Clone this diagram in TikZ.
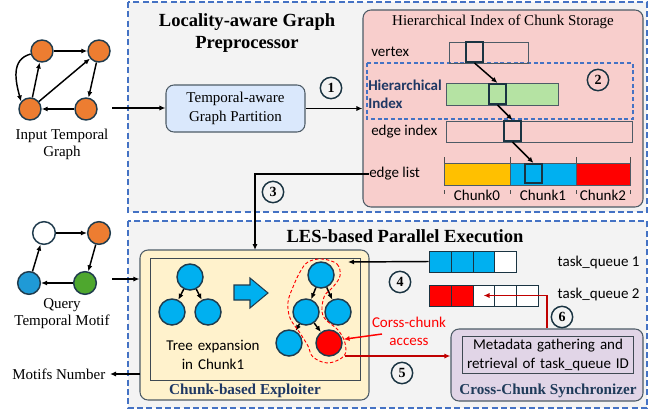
\documentclass[tikz,border=0pt]{standalone}
\usepackage{fontspec}
\setmainfont{Liberation Serif}
\newfontfamily\carl{Carlito}
\usetikzlibrary{arrows.meta,fit,calc}

\definecolor{bggray}{HTML}{F3F3F3}
\definecolor{dashblue}{HTML}{4472C4}
\definecolor{boxedge}{HTML}{4D5B66}
\definecolor{nodeedge}{HTML}{1F3B4D}
\definecolor{orangec}{HTML}{ED7D31}
\definecolor{bluec}{HTML}{00B0F0}
\definecolor{qblue}{HTML}{1F9AD6}
\definecolor{qgreen}{HTML}{4EA72E}
\definecolor{pinkc}{HTML}{F8CECC}
\definecolor{partc}{HTML}{DAE8FC}
\definecolor{yelc}{HTML}{FFF2CC}
\definecolor{purc}{HTML}{E1D5E7}
\definecolor{greenbar}{HTML}{B5E3A3}
\definecolor{goldc}{HTML}{FFC000}
\definecolor{redc}{HTML}{FF0000}
\definecolor{darkred}{HTML}{C00000}
\definecolor{navy}{HTML}{1F3864}
\definecolor{tealnavy}{HTML}{1F3B5A}
\definecolor{hlc}{HTML}{1A3442}

\tikzset{
  serif15/.style={font=\fontsize{11.25}{12.75}\selectfont},
  sans15/.style={font=\carl\fontsize{11.25}{13.5}\selectfont},
  titlef/.style={font=\bfseries\fontsize{13.9}{16.5}\selectfont},
  labelf/.style={font=\bfseries\fontsize{11.4}{13}\selectfont, text=navy},
  dashbox/.style={draw=dashblue, fill=bggray, line width=0.9pt, dash pattern=on 4.5pt off 2.5pt},
  roundbox/.style={draw=boxedge, line width=0.8pt, rounded corners=6pt, inner sep=0pt},
  plainbox/.style={draw=boxedge!80!black, line width=0.7pt, inner sep=0pt},
  bar/.style={draw=boxedge, line width=0.7pt, inner sep=0pt},
  cellhl/.style={draw=hlc, line width=1.5pt, inner sep=0pt},
  qcell/.style={draw=hlc, line width=0.7pt, inner sep=0pt},
  num/.style={circle, draw=hlc, line width=1.1pt, inner sep=0pt, minimum size=16pt,
    font=\bfseries\fontsize{10.5}{10.5}\selectfont},
  gnode/.style={circle, draw=nodeedge, line width=1.1pt, inner sep=0pt},
  onode/.style={gnode, fill=orangec, minimum size=16.5pt},
  qnode/.style={gnode, minimum size=17pt},
  tnode/.style={gnode, fill=bluec, minimum size=19.5pt},
  arr/.style={line width=1.1pt, -{Latex[length=4.5pt,width=3.8pt]}},
  redarr/.style={draw=darkred, line width=1.1pt, -{Latex[length=4.5pt,width=3.8pt]}},
  contour/.style={draw=redc, line width=0.7pt, dash pattern=on 2.5pt off 1.6pt},
  tick/.style={line width=0.5pt, draw=black!70}
}

\begin{document}
\begin{tikzpicture}[x=0.75pt,y=-0.75pt]
\useasboundingbox (0,0) rectangle (652,410);

% module frames
\draw[dashbox] (128,2) rectangle (647,212);
\draw[dashbox] (128,221) rectangle (647,408);
\node[titlef, align=center] (ttop) at (247,33) {Locality-aware Graph\\Preprocessor};
\node[titlef] (tbot) at (405,236) {LES-based Parallel Execution};

% input temporal graph
\node[onode] (n1) at (42,51) {};
\node[onode] (n2) at (99,51) {};
\node[onode] (n3) at (30,109) {};
\node[onode] (n4) at (86,109) {};
\draw[arr] (n1) -- (n2);
\draw[arr] (n2) -- (n4);
\draw[arr] (n4) -- (n3);
\draw[arr] (n3) -- (n1);
\draw[arr] (n3) -- (n2);
\draw[arr] (n1.195) to[out=195,in=105,looseness=1.1] (n3.140);
\node[serif15, align=center] (inlab) at (62,144) {Input Temporal\\Graph};

% partition
\node[roundbox, fill=partc, fit={(166,85)(305,132)}] (part) {};
\node[serif15, align=center, font=\fontsize{11.25}{14.25}\selectfont] (partlab) at (part.center) {Temporal-aware\\Graph Partition};
\coordinate (inTail) at (112,108);
\draw[arr] (inTail) -- (inTail -| part.west);

% hierarchical index of chunk storage
\node[roundbox, fill=pinkc, fit={(363,10)(643,207)}] (pink) {};
\node[serif15] (pinklab) at (503,22) {Hierarchical Index of Chunk Storage};
\draw[arr] (part.east) -- (part.east -| pink.west);
\node[num] (c1) at (331,88) {1};

\draw[dashblue, line width=0.8pt, dash pattern=on 3pt off 2pt] (367,63) rectangle (633,119);
\node[num] (c2) at (598,80) {2};

\node[sans15, anchor=west, inner sep=0pt] (vlab) at (371,52) {vertex};
\node[sans15, anchor=west, inner sep=0pt, align=left, font=\carl\bfseries\fontsize{11.25}{13.5}\selectfont, text=navy] (hlab) at (368,94) {Hierarchical\\Index};
\node[sans15, anchor=west, inner sep=0pt] (eilab) at (371,132) {edge index};
\node[sans15, anchor=west, inner sep=0pt] (ellab) at (369,174) {edge list};

\node[bar, fit={(449,42)(528,63)}] (vbar) {};
\node[cellhl, fit={(466,42)(483,62)}] (vcell) {};
\node[bar, fill=greenbar, fit={(446,83)(558,105)}] (gbar) {};
\node[cellhl, fit={(489,84)(506,104)}] (gcell) {};
\node[bar, fit={(446,121)(632,142)}] (eibar) {};
\node[cellhl, fit={(504,121)(521,141)}] (eicell) {};
\node[bar, fill=goldc, fit={(444,163)(510,185)}] (ch0) {};
\node[bar, fill=bluec, fit={(510,163)(576,185)}] (ch1) {};
\node[bar, fill=redc, fit={(576,163)(630,185)}] (ch2) {};
\node[cellhl, fit={(525,164)(542,183)}] (elcell) {};
\foreach \x in {444,510,576,630} {
  \draw[tick] (\x,157) -- (\x,163);
  \draw[tick] (\x,190) -- (\x,194);
}
\node[sans15] (ch0lab) at (477,195) {Chunk0};
\node[sans15] (ch1lab) at (543,195) {Chunk1};
\node[sans15] (ch2lab) at (603,195) {Chunk2};

\draw[arr] (vcell.south) -- (gcell.north);
\draw[arr] (gcell.south) -- (eicell.north);
\draw[arr] (eicell.south) -- (elcell.north);

% chunk-based exploiter
\node[roundbox, fill=yelc, fit={(140,250)(369,400)}] (exp) {};
\node[plainbox, fit={(150,258)(360,380)}] (expin) {};
\node[labelf] (explab) at (245,391) {Chunk-based Exploiter};
\coordinate (e3) at (255,250);
\draw[arr] (ellab.west) -| (e3);
\node[num] (c3) at (273,192) {3};

% tree expansion inside one chunk
\node[tnode] (a0) at (190,277) {};
\node[tnode] (a1) at (172,312) {};
\node[tnode] (a2) at (208,312) {};
\draw[arr] (a0) -- (a1);
\draw[arr] (a0) -- (a2);
\node[text width=110pt, inner sep=0pt, align=center, font=\carl\fontsize{11.25}{13.75}\selectfont] (treelab) at (213,355) {Tree expansion\\in Chunk1};
\draw[draw=nodeedge, line width=0.8pt, fill=bluec] (234,285) -- (250,285) -- (250,278) -- (268,293) -- (250,308) -- (250,300) -- (234,300) -- cycle;

\node[tnode] (b0) at (321,275) {};
\node[tnode] (b1) at (306,312) {};
\node[tnode] (b2) at (338,312) {};
\node[tnode] (b3) at (289,343) {};
\node[tnode, fill=redc] (b4) at (329,343) {};
\draw[arr] (b0) -- (b1);
\draw[arr] (b0) -- (b2);
\draw[arr] (b1) -- (b3);
\draw[arr] (b1) -- (b4);
\draw[contour] plot[smooth cycle, tension=0.6] coordinates {
  (322,259) (337,264) (340,276) (333,287) (324,297) (323,316) (338,330)
  (345,343) (344,356) (328,363) (313,357) (308,346) (300,333) (290,318)
  (288,302) (293,287) (300,272) (308,262)};

% query motif
\node[qnode, fill=white] (m1) at (44,233) {};
\node[qnode, fill=orangec] (m2) at (99,233) {};
\node[qnode, fill=qgreen] (m3) at (85,283) {};
\node[qnode, fill=qblue] (m4) at (29,283) {};
\draw[arr] (m1) -- (m2);
\draw[arr] (m2) -- (m3);
\draw[arr] (m3) -- (m4);
\draw[arr] (m4) -- (m1);
\node[serif15, align=center] (qlab) at (62,314) {Query\\Temporal Motif};
\coordinate (qTail) at (112,279);
\draw[arr] (qTail) -- (qTail -| exp.west);

\node[serif15, anchor=east] (mout) at (110,374) {Motifs Number};
\coordinate (oStart) at (140,374);
\draw[arr] (oStart) -- (mout.east);

% task queues
\node[qcell, fill=bluec, fit={(429,251)(451,272)}] (qa1) {};
\node[qcell, fill=bluec, fit={(451,251)(473,272)}] (qa2) {};
\node[qcell, fill=bluec, fit={(473,251)(494,272)}] (qa3) {};
\node[qcell, fill=white, fit={(494,251)(516,272)}] (qa4) {};
\node[sans15, anchor=west] (qalab) at (553,262) {task\_queue 1};
\node[qcell, fill=redc, fit={(429,285)(451,306)}] (qb1) {};
\node[qcell, fill=redc, fit={(451,285)(473,306)}] (qb2) {};
\node[qcell, fill=white, fit={(473,285)(494,306)}] (qb3) {};
\node[qcell, fill=white, fit={(494,285)(516,306)}] (qb4) {};
\node[qcell, fill=white, fit={(516,285)(538,306)}] (qb5) {};
\node[sans15, anchor=west] (qblab) at (553,294) {task\_queue 2};
\coordinate (q1end) at (348,262);
\draw[arr] (qa1.west) -- (q1end);
\node[num] (c4) at (400,282) {4};

% cross-chunk synchronizer
\node[roundbox, fill=purc, fit={(451,329)(643,401)}] (sync) {};
\node[plainbox, fit={(462,336)(633,373)}] (syncin) {};
\node[text width=160pt, inner sep=0pt, align=center, font=\carl\fontsize{11.25}{14.25}\selectfont] (synctext) at (548,355) {Metadata gathering and\\retrieval of task\_queue ID};
\node[labelf, text=tealnavy] (synclab) at (548,391) {Cross-Chunk Synchronizer};

\draw[redarr] (sync.north) |- (qb3.center);
\node[num] (c6) at (562,317) {6};

\coordinate (s5) at (345,356);
\draw[redarr] (s5) -- (s5 -| sync.west);
\node[num] (c5) at (402,373) {5};

\node[sans15, text=redc, align=center, font=\carl\fontsize{11.25}{13.5}\selectfont] (cc) at (409,331) {Corss-chunk\\access};
\coordinate (ccTail) at (382,334);
\draw[draw=redc, line width=1.1pt, -{Latex[length=4.5pt,width=3.8pt]}, shorten >=1pt] (ccTail) -- (b4.15);
\end{tikzpicture}
\end{document}
